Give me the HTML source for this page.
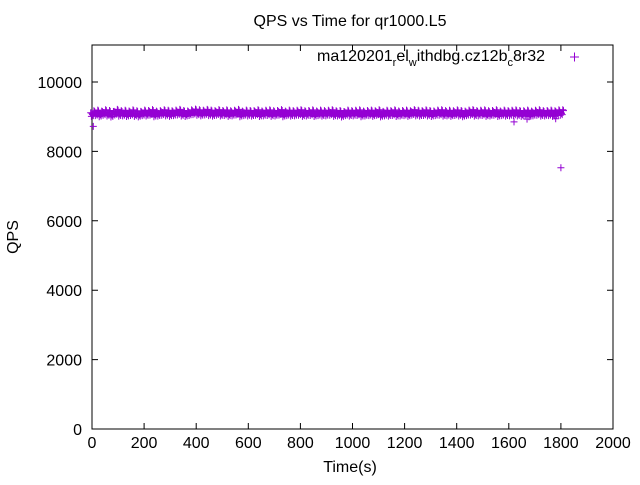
<!DOCTYPE html>
<html><head><meta charset="utf-8"><style>
body{margin:0;background:#fff}
svg text{font-family:"Liberation Sans",sans-serif;fill:#000}
</style></head><body>
<svg id="c" width="640" height="480" viewBox="0 0 640 480">
<text x="350" y="26" font-size="16" text-anchor="middle">QPS vs Time for qr1000.L5</text>
<rect x="92" y="45" width="521" height="384" fill="none" stroke="#000" stroke-width="1"/>
<g id="ax"></g>
<g id="pts"></g>
<text x="18" y="237" font-size="16" text-anchor="middle" transform="rotate(-90 18 237)">QPS</text>
<text x="350" y="472" font-size="16" text-anchor="middle">Time(s)</text>
<g>
<text x="545" y="61" font-size="16" text-anchor="end">ma120201<tspan font-size="11" dy="5">r</tspan><tspan dy="-5">el</tspan><tspan font-size="11" dy="5">w</tspan><tspan dy="-5">ithdbg.cz12b</tspan><tspan font-size="11" dy="5">c</tspan><tspan dy="-5">8r32</tspan></text>
<path d="M570 57h9M574.5 52.5v9" stroke="#9400d3" stroke-width="1"/>
</g>
</svg>
<script>
const xTicks=[0,200,400,600,800,1000,1200,1400,1600,1800,2000];
const yTicks=[0,2000,4000,6000,8000,10000];
const mainQps=[9090,9110,9080,9120,9100,9070,9130,9095,9105,9085,9115,9090,9075,9110,9100,9125,9080,9095,9120,9105,9090,9110,9130,9100,9085,9115,9140,9120,9105,9130,9110,9095,9125,9100,9115,9090,9105,9130,9080,9110,9100,9095,9120,9085,9105,9115,9090,9100,9125,9080,9110,9095,9105,9120,9090,9100,9115,9085,9110,9095,9105,9120,9090,9100,9070,9110,9095,9105,9115,9080,9100,9110,9090,9120,9075,9105,9095,9115,9085,9100,9110,9090,9125,9105,9095,9115,9100,9085,9110,9120,9095,9105,9090,9115,9100,9080,9110,9125,9095,9105,9115,9090,9100,9120,9085,9110,9095,9105,9115,9100,9090,9110,9080,9105,9120,9095,9100,9110,9090,9115,9120];
const mainStep=15;
const outTimes=[5,1620,1670,1780,1800];
const outQps=[8720,8850,8930,8940,7530];
const X=v=>92+v*521/2000, Y=v=>429-v*0.0347;
const ns="http://www.w3.org/2000/svg";
const ax=document.getElementById('ax'), pts=document.getElementById('pts');
function mk(tag,attrs,parent){const e=document.createElementNS(ns,tag);for(const k in attrs)e.setAttribute(k,attrs[k]);parent.appendChild(e);return e;}
xTicks.forEach(t=>{
 const x=X(t);
 const l=mk('path',{d:`M${x} 429v-6M${x} 45v6`,stroke:'#000'},ax);
 
 
 const tx=mk('text',{x:x,y:448,'font-size':16,'text-anchor':'middle'},ax);tx.textContent=t;
 
 
});
yTicks.forEach(t=>{
 const y=Y(t);
 const l=mk('path',{d:`M92 ${y}h6M613 ${y}h-6`,stroke:'#000'},ax);
 
 
 const tx=mk('text',{x:82,y:y+6,'font-size':16,'text-anchor':'end'},ax);tx.textContent=t;
 
 
});
function plus(x,y){
 const p=mk('path',{d:`M${x-3.5} ${y}h7M${x} ${y-3.5}v7`,stroke:'#9400d3','stroke-width':1},pts);
 
 
}
const offs=[[0,0],[1.3,-60],[2.6,55],[-1.3,25],[0.6,-25],[1.9,80],[-0.6,-80]];
mainQps.forEach((v,i)=>{const x=X(i*mainStep);offs.forEach(o=>plus(x+o[0],Y(v+o[1])));});
outTimes.forEach((t,i)=>plus(X(t),Y(outQps[i])));
</script>
</body></html>
